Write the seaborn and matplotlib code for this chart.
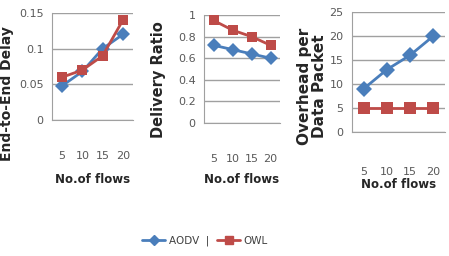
import pandas as pd
import numpy as np
import matplotlib
matplotlib.use("Agg")
import matplotlib.pyplot as plt
import seaborn as sns
from matplotlib.lines import Line2D

### DATA
flows = ["5", "10", "15", "20"]
delay_aodv = [0.048, 0.068, 0.100, 0.120]
delay_owl = [0.060, 0.070, 0.090, 0.140]
ratio_aodv = [0.72, 0.68, 0.64, 0.60]
ratio_owl = [0.95, 0.86, 0.80, 0.72]
overhead_aodv = [9, 13, 16, 20]
overhead_owl = [5, 5, 5, 5]
protocols = ["AODV", "OWL"]

BLUE = "#4A7EBB"
RED = "#BE4B48"
palette = {"AODV": BLUE, "OWL": RED}
markers = {"AODV": "D", "OWL": "s"}

def make_df(a, o):
    return pd.DataFrame({
        "pos": list(range(len(flows))) * 2,
        "val": a + o,
        "proto": ["AODV"] * len(a) + ["OWL"] * len(o),
    })

sns.set_style("white")
plt.rcParams["font.family"] = ["DejaVu Sans"]

fig = plt.figure(figsize=(4.49, 2.56), dpi=100)
W, H = 449, 256

def add_ax(x0, x1, ytop, ybot):
    return fig.add_axes([x0 / W, 1 - ybot / H, (x1 - x0) / W, (ybot - ytop) / H])

### (axes, aodv, owl, yticks, yticklabels, ylabel, ymax, label x/y, label size, tick pad, xlabel pad)
panels = [
    (add_ax(52, 133, 13, 120), delay_aodv, delay_owl, [0, 0.05, 0.1, 0.15], ["0", "0.05", "0.1", "0.15"],
     "End-to-End Delay", 0.15, (-0.555, 0.25), 10, 22, 9),
    (add_ax(204, 280, 15, 123), ratio_aodv, ratio_owl, [0, 0.2, 0.4, 0.6, 0.8, 1.0], ["0", "0.2", "0.4", "0.6", "0.8", "1"],
     "Delivery Ratio", 1.0, (-0.605, 0.40), 10.5, 22, 7),
    (add_ax(352, 445, 12, 132), overhead_aodv, overhead_owl, [0, 5, 10, 15, 20, 25], ["0", "5", "10", "15", "20", "25"],
     "Overhead per\nData Packet", 25, (-0.43, 0.38), 11, 25, 1),
]

for i, (ax, a, o, yt, ytl, ylab, ymax, lpos, lsize, tpad, xpad) in enumerate(panels):
    df = make_df(a, o)
    sns.lineplot(data=df, x="pos", y="val", hue="proto", style="proto", palette=palette,
                 markers=markers, dashes=False, linewidth=2, markersize=7 if i < 2 else 8,
                 markeredgewidth=0, ax=ax, legend=False)
    ax.set_xlim(-0.5, 3.5)
    ax.set_ylim(0, ymax)
    ax.set_yticks(yt)
    ax.set_yticklabels(ytl, fontsize=8, color="#595959")
    ax.set_xticks(range(4))
    ax.set_xticklabels(flows, fontsize=8, color="#595959")
    ax.set_xticks(np.arange(-0.5, 4, 1), minor=True)
    ax.tick_params(axis="x", which="major", length=0, pad=tpad)
    ax.tick_params(axis="x", which="minor", length=4, color="#999999", direction="out")
    ax.tick_params(axis="y", length=4, color="#999999", pad=2)
    ax.grid(axis="y", color="#A0A0A0", linewidth=1)
    ax.set_axisbelow(True)
    for s in ["top", "right"]:
        ax.spines[s].set_visible(False)
    for s in ["left", "bottom"]:
        ax.spines[s].set_color("#A0A0A0")
    ax.set_xlabel("No.of flows", fontsize=8.5, fontweight="bold", labelpad=xpad)
    ax.set_ylabel(ylab, fontsize=lsize, fontweight="bold", linespacing=1.05)
    ax.yaxis.set_label_coords(*lpos)
    ax.yaxis.label.set_va("center")

handles = [Line2D([], [], color=BLUE, marker="D", markersize=5, linewidth=2),
           Line2D([], [], color=RED, marker="s", markersize=6, linewidth=2)]
leg = fig.legend(handles, ["AODV  |", "OWL"], loc="center", bbox_to_anchor=(205 / W, 1 - 241 / H),
                 ncol=2, frameon=False, fontsize=7.5, handlelength=2.2, columnspacing=0.8, handletextpad=0.3,
                 labelcolor="#404040")

fig.savefig("out.png", dpi=100)
